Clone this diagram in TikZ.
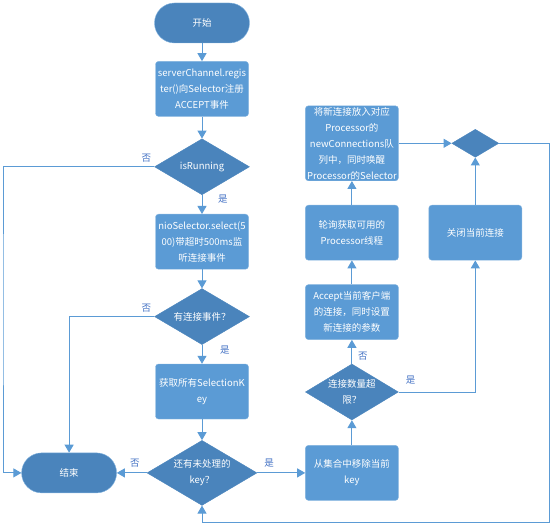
\documentclass[tikz,border=0pt]{standalone}
\usepackage{fontspec}
\setmainfont{Noto Sans CJK SC}
\usetikzlibrary{arrows.meta, positioning, shapes.geometric}
\definecolor{boxblue}{HTML}{5B9BD5}
\definecolor{darkblue}{HTML}{4A84BC}
\definecolor{lblblue}{HTML}{4472C4}
\tikzset{
  box/.style={rectangle,draw=boxblue!75!white,fill=boxblue,rounded corners=3pt,align=center,text=white,inner sep=1pt,minimum width=93pt,minimum height=55pt,font=\fontsize{9.5}{16}\selectfont},
  term/.style={rectangle,draw=boxblue!75!white,fill=darkblue,rounded corners=20pt,align=center,text=white,minimum width=95pt,minimum height=40pt,font=\fontsize{9.5}{16}\selectfont},
  decision/.style={diamond,draw=darkblue,fill=darkblue,aspect=1.7,align=center,text=white,inner sep=0pt,minimum width=95pt,minimum height=56pt,font=\fontsize{9.5}{16}\selectfont},
  line/.style={-{Triangle[width=9pt,length=8pt]},draw=boxblue,line width=1pt},
  lbl/.style={text=lblblue,inner sep=1pt,font=\fontsize{9.5}{11}\selectfont}
}

\begin{document}
\begin{tikzpicture}[x=1pt,y=1pt,node distance=19pt and 48pt]
\useasboundingbox (0,0) rectangle (552,-524);
\node[term] (start) at (202,-23) {开始};
\node[box, below=18pt of start] (reg) {serverChannel.regis\\ter()向Selector注册\\ACCEPT事件};
\node[decision, below=22pt of reg] (run) {isRunning};
\node[box, below=of run] (sel) {nioSelector.select(5\\00)带超时500ms监\\听连接事件};
\node[decision, below=of sel] (conn) {有连接事件？};
\node[box, below=of conn] (keys) {获取所有SelectionK\\ey};
\node[decision, below=21pt of keys, minimum width=110pt, minimum height=65pt] (more) {还有未处理的\\key？};
\node[term, left=30pt of more] (stop) {结束};
\node[box, right=48pt of more] (remove) {从集合中移除当前\\key};
\node[decision, above=25pt of remove, minimum width=93pt] (limit) {连接数量超\\限？};
\node[box, above=24pt of limit] (accept) {Accept当前客户端\\的连接，同时设置\\新连接的参数};
\node[box, above=24pt of accept] (poll) {轮询获取可用的\\Processor线程};
\node[box, above=24pt of poll, minimum height=75pt] (assign) {将新连接放入对应\\Processor的\\newConnections队\\列中，同时唤醒\\Processor的Selector};
\node[box, right=30pt of poll] (close) {关闭当前连接};
\node[decision, minimum width=47pt, minimum height=28pt] (merge) at (close |- assign) {};
\coordinate (lft) at (3,-300);
\coordinate (rgt) at (549,-522);

% yes / no labels
\node[lbl, above left=3pt and 2pt of run.west] (runno) {否};
\node[lbl, below right=-1pt and 15pt of run.south] (runyes) {是};
\node[lbl, above left=3pt and 2pt of conn.west] (connno) {否};
\node[lbl, below right=0pt and 17pt of conn.south] (connyes) {是};
\node[lbl, above left=4pt and 6pt of more.west] (moreno) {否};
\node[lbl, above right=4pt and 6pt of more.east] (moreyes) {是};
\node[lbl, above right=2pt and 5pt of limit.north] (limitno) {否};
\node[lbl, above right=7pt and 6pt of limit.east] (limityes) {是};

\draw[line] (start) -- (reg);
\draw[line] (reg) -- (run);
\draw[line] (run) -- (sel);
\draw[line] (sel) -- (conn);
\draw[line] (conn) -- (keys);
\draw[line] (keys) -- (more);
\draw[line] (more) -- (stop);
\draw[line] (run.west) -| (lft) |- (stop.west);
\draw[line] (conn.west) -| (stop.north);
\draw[line] (more) -- (remove);
\draw[line] (remove) -- (limit);
\draw[line] (limit) -- (accept);
\draw[line] (accept) -- (poll);
\draw[line] (poll) -- (assign);
\draw[line] (assign) -- (merge);
\draw[line] (limit.east) -| (close.south);
\draw[line] (close) -- (merge);
\draw[line] (merge.east) -| (rgt) -| (more.south);
\end{tikzpicture}
\end{document}
